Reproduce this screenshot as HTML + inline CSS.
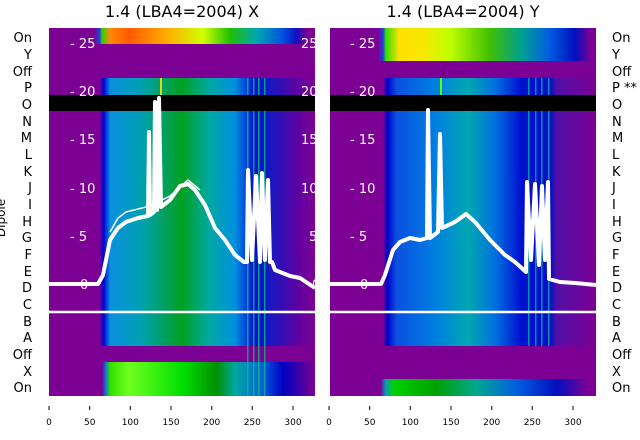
<!DOCTYPE html>
<html><head><style>
body{margin:0;background:#fff;}
svg{display:block;font-family:"DejaVu Sans","Liberation Sans",sans-serif;}
</style></head><body>
<svg width="640" height="440" viewBox="0 0 640 440">
<defs>
<linearGradient id="lt" x1="49" x2="315" gradientUnits="userSpaceOnUse">
<stop offset="0.17" stop-color="#7d0095"/><stop offset="0.19" stop-color="#2040e0"/><stop offset="0.2" stop-color="#30d000"/>
<stop offset="0.23" stop-color="#ff8800"/><stop offset="0.3" stop-color="#ff5a00"/><stop offset="0.45" stop-color="#ffb000"/>
<stop offset="0.58" stop-color="#d0ff00"/><stop offset="0.68" stop-color="#20c000"/><stop offset="0.78" stop-color="#00a8b0"/>
<stop offset="0.88" stop-color="#0050e0"/><stop offset="0.93" stop-color="#1010c0"/><stop offset="0.97" stop-color="#7d0095"/>
</linearGradient>
<linearGradient id="lm" x1="49" x2="315" gradientUnits="userSpaceOnUse">
<stop offset="0.19" stop-color="#7d0095"/><stop offset="0.205" stop-color="#0000d0"/><stop offset="0.23" stop-color="#0a90e0"/>
<stop offset="0.35" stop-color="#00a0b0"/><stop offset="0.5" stop-color="#00a020"/><stop offset="0.6" stop-color="#00a8a0"/>
<stop offset="0.7" stop-color="#0090e0"/><stop offset="0.77" stop-color="#0010d0"/><stop offset="0.83" stop-color="#1818c0"/>
<stop offset="0.94" stop-color="#6000a0"/><stop offset="1" stop-color="#7d0095"/>
</linearGradient>
<linearGradient id="lb" x1="49" x2="315" gradientUnits="userSpaceOnUse">
<stop offset="0.2" stop-color="#7d0095"/><stop offset="0.21" stop-color="#1060e0"/><stop offset="0.23" stop-color="#30e000"/>
<stop offset="0.3" stop-color="#70ff20"/><stop offset="0.5" stop-color="#00e000"/><stop offset="0.63" stop-color="#009000"/>
<stop offset="0.7" stop-color="#00a8a0"/><stop offset="0.8" stop-color="#0060e0"/><stop offset="0.88" stop-color="#0000c0"/>
<stop offset="0.96" stop-color="#5000a0"/><stop offset="1" stop-color="#7d0095"/>
</linearGradient>
<linearGradient id="rt" x1="330" x2="596" gradientUnits="userSpaceOnUse">
<stop offset="0.18" stop-color="#7d0095"/><stop offset="0.2" stop-color="#2040e0"/><stop offset="0.21" stop-color="#30e000"/>
<stop offset="0.26" stop-color="#ffe000"/><stop offset="0.35" stop-color="#f8e800"/><stop offset="0.45" stop-color="#c0ff00"/>
<stop offset="0.6" stop-color="#40c000"/><stop offset="0.72" stop-color="#00a090"/><stop offset="0.82" stop-color="#0060e0"/>
<stop offset="0.92" stop-color="#0010c0"/><stop offset="0.98" stop-color="#7d0095"/>
</linearGradient>
<linearGradient id="rm" x1="330" x2="596" gradientUnits="userSpaceOnUse">
<stop offset="0.2" stop-color="#7d0095"/><stop offset="0.215" stop-color="#0000c8"/><stop offset="0.25" stop-color="#0a50e0"/>
<stop offset="0.4" stop-color="#0080e0"/><stop offset="0.52" stop-color="#00a8b0"/><stop offset="0.62" stop-color="#0070e0"/>
<stop offset="0.72" stop-color="#0010d0"/><stop offset="0.83" stop-color="#0010c8"/><stop offset="0.85" stop-color="#5010a8"/><stop offset="1" stop-color="#7d0095"/>
</linearGradient>
<linearGradient id="rb" x1="330" x2="596" gradientUnits="userSpaceOnUse">
<stop offset="0.19" stop-color="#7d0095"/><stop offset="0.21" stop-color="#00a0b0"/><stop offset="0.24" stop-color="#00d000"/>
<stop offset="0.4" stop-color="#00a000"/><stop offset="0.55" stop-color="#00a890"/><stop offset="0.7" stop-color="#0060e0"/>
<stop offset="0.85" stop-color="#0010c0"/><stop offset="0.97" stop-color="#7d0095"/>
</linearGradient>
</defs>
<text x="182" y="17" font-size="16" text-anchor="middle">1.4 (LBA4=2004) X</text>
<text x="463" y="17" font-size="16" text-anchor="middle">1.4 (LBA4=2004) Y</text>
<!-- left panel -->
<rect x="49" y="28" width="266" height="368" fill="#7d0095"/>
<rect x="49" y="28" width="266" height="16" fill="url(#lt)"/>
<rect x="49" y="78" width="266" height="268" fill="url(#lm)"/>
<rect x="49" y="362" width="266" height="34" fill="url(#lb)"/>
<g fill="#00c080" opacity="0.8"><rect x="247" y="78" width="1.5" height="318"/><rect x="253" y="78" width="1.5" height="318"/><rect x="258" y="78" width="1.5" height="318"/><rect x="264" y="78" width="1.5" height="318"/></g>
<rect x="160" y="78" width="2" height="17" fill="#e0e000"/>
<rect x="49" y="95" width="266" height="16" fill="#000"/>
<!-- right panel -->
<rect x="330" y="28" width="266" height="368" fill="#7d0095"/>
<rect x="330" y="28" width="266" height="33" fill="url(#rt)"/>
<rect x="330" y="78" width="266" height="268" fill="url(#rm)"/>
<rect x="330" y="379" width="266" height="17" fill="url(#rb)"/>
<g fill="#00b0a0" opacity="0.8"><rect x="528" y="78" width="1.5" height="268"/><rect x="535" y="78" width="1.5" height="268"/><rect x="541" y="78" width="1.5" height="268"/><rect x="548" y="78" width="1.5" height="268"/></g>
<rect x="440" y="78" width="2" height="17" fill="#60ff00"/>
<rect x="330" y="95" width="266" height="16" fill="#000"/>
<!-- white overlay -->
<g fill="none" stroke="#fff" stroke-linejoin="round">
<polyline stroke-width="4" points="49,284 98,284 103,275 110,240 118,228 126,222 138,218 148,216 149,132 150,215 154,212 155,102 157,210 159,98 161,207 170,200 180,186 188,184 195,190 205,205 215,228 225,240 235,255 244,262 247,262 248,170 252,260 256,176 260,262 262,173 265,260 268,180 270,262 272,262 275,270 290,276 300,278 315,288"/>
<polyline stroke-width="1.5" points="110,232 118,218 126,212 150,206 170,196 188,180 200,190"/>
<polyline stroke-width="4" points="330,284 381,284 385,275 393,250 400,242 410,238 420,240 427,238 428,110 430,238 438,232 440,134 442,228 455,222 466,214 475,222 490,240 505,255 515,262 526,272 527,182 531,260 535,184 539,265 542,186 545,260 548,182 549,279 560,282 575,283 596,285"/>
<line x1="49" y1="312" x2="315" y2="312" stroke-width="2.5"/>
<line x1="330" y1="312" x2="596" y2="312" stroke-width="2.5"/>
</g>
<g fill="#fff" font-size="13">
<text x="70" y="48">- 25</text><text x="70" y="96">- 20</text><text x="70" y="144">- 15</text><text x="70" y="193">- 10</text><text x="70" y="241">- 5</text><text x="80" y="289">0</text>
<text x="301" y="48">25</text><text x="301" y="96">20</text><text x="301" y="144">15</text><text x="301" y="193">10</text><text x="309" y="241">5</text><text x="312" y="289">0</text>
<text x="350" y="48">- 25</text><text x="350" y="96">- 20</text><text x="350" y="144">- 15</text><text x="350" y="193">- 10</text><text x="350" y="241">- 5</text><text x="360" y="289">0</text>
</g>
<g font-size="13" text-anchor="end">
<text x="32" y="42">On</text><text x="32" y="59">Y</text><text x="32" y="76">Off</text><text x="32" y="92">P</text><text x="32" y="109">O</text><text x="32" y="126">N</text><text x="32" y="142">M</text><text x="32" y="159">L</text><text x="32" y="176">K</text><text x="32" y="192">J</text><text x="32" y="209">I</text><text x="32" y="226">H</text><text x="32" y="242">G</text><text x="32" y="259">F</text><text x="32" y="276">E</text><text x="32" y="292">D</text><text x="32" y="309">C</text><text x="32" y="326">B</text><text x="32" y="342">A</text><text x="32" y="359">Off</text><text x="32" y="376">X</text><text x="32" y="392">On</text>
</g>
<g font-size="13">
<text x="612" y="42">On</text><text x="612" y="59">Y</text><text x="612" y="76">Off</text><text x="612" y="92">P **</text><text x="612" y="109">O</text><text x="612" y="126">N</text><text x="612" y="142">M</text><text x="612" y="159">L</text><text x="612" y="176">K</text><text x="612" y="192">J</text><text x="612" y="209">I</text><text x="612" y="226">H</text><text x="612" y="242">G</text><text x="612" y="259">F</text><text x="612" y="276">E</text><text x="612" y="292">D</text><text x="612" y="309">C</text><text x="612" y="326">B</text><text x="612" y="342">A</text><text x="612" y="359">Off</text><text x="612" y="376">X</text><text x="612" y="392">On</text>
</g>
<text transform="translate(5,218) rotate(-90)" font-size="12" text-anchor="middle">Dipole</text>
<g stroke="#000" stroke-width="1">
<line x1="49" y1="406" x2="49" y2="410"/><line x1="89.7" y1="406" x2="89.7" y2="410"/><line x1="130.3" y1="406" x2="130.3" y2="410"/><line x1="171" y1="406" x2="171" y2="410"/><line x1="211.7" y1="406" x2="211.7" y2="410"/><line x1="252.3" y1="406" x2="252.3" y2="410"/><line x1="293" y1="406" x2="293" y2="410"/>
<line x1="329" y1="406" x2="329" y2="410"/><line x1="369.7" y1="406" x2="369.7" y2="410"/><line x1="410.3" y1="406" x2="410.3" y2="410"/><line x1="451" y1="406" x2="451" y2="410"/><line x1="491.7" y1="406" x2="491.7" y2="410"/><line x1="532.3" y1="406" x2="532.3" y2="410"/><line x1="573" y1="406" x2="573" y2="410"/>
</g>
<g font-size="9" text-anchor="middle">
<text x="49" y="425">0</text><text x="89.7" y="425">50</text><text x="130.3" y="425">100</text><text x="171" y="425">150</text><text x="211.7" y="425">200</text><text x="252.3" y="425">250</text><text x="293" y="425">300</text>
<text x="329" y="425">0</text><text x="369.7" y="425">50</text><text x="410.3" y="425">100</text><text x="451" y="425">150</text><text x="491.7" y="425">200</text><text x="532.3" y="425">250</text><text x="573" y="425">300</text>
</g>
</svg>
</body></html>
